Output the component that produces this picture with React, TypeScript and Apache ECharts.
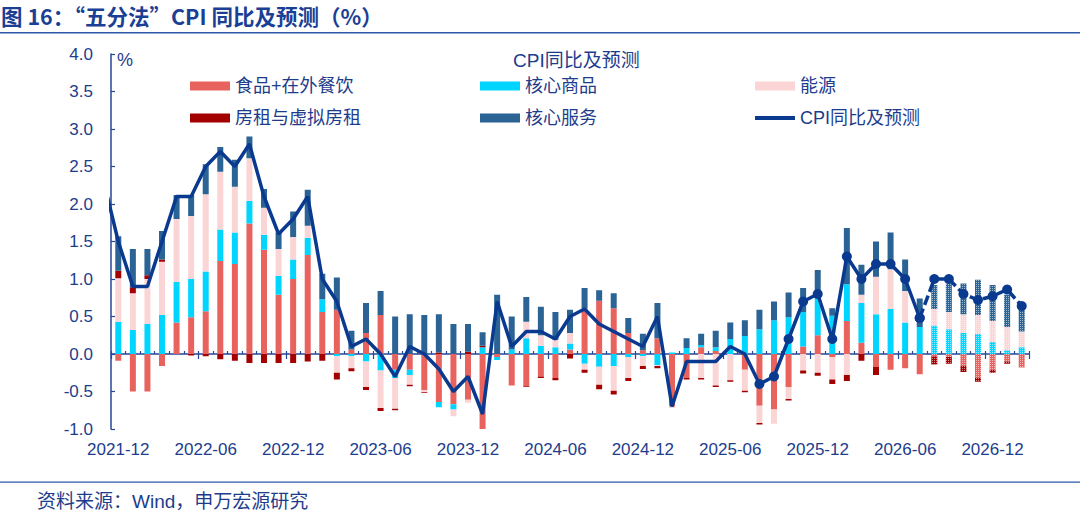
import React, { useEffect, useRef } from "react";
import * as echarts from "echarts";

// Months (2021-11 only feeds the clipped start of the CPI line)
const categories = [
  "2021-11", "2021-12",
  "2022-01", "2022-02", "2022-03", "2022-04", "2022-05", "2022-06", "2022-07", "2022-08", "2022-09", "2022-10", "2022-11", "2022-12",
  "2023-01", "2023-02", "2023-03", "2023-04", "2023-05", "2023-06", "2023-07", "2023-08", "2023-09", "2023-10", "2023-11", "2023-12",
  "2024-01", "2024-02", "2024-03", "2024-04", "2024-05", "2024-06", "2024-07", "2024-08", "2024-09", "2024-10", "2024-11", "2024-12",
  "2025-01", "2025-02", "2025-03", "2025-04", "2025-05", "2025-06", "2025-07", "2025-08", "2025-09", "2025-10", "2025-11", "2025-12",
  "2026-01", "2026-02", "2026-03", "2026-04", "2026-05", "2026-06", "2026-07", "2026-08", "2026-09", "2026-10", "2026-11", "2026-12",
  "2027-01", "2027-02",
];

// 食品+在外餐饮
const food = [
  null, -0.09,
  -0.50, -0.50, -0.16, 0.42, 0.49, 0.57, 1.24, 1.20, 1.74, 1.39, 0.79, 1.00,
  1.32, 0.56, 0.59, 0.06, 0.28, 0.52, -0.21, -0.21, -0.48, -0.64, -0.67, -0.61,
  -1.04, -0.04, -0.42, -0.43, -0.30, -0.32, 0.06, 0.61, 0.71, 0.61, 0.28, 0.05,
  0.21, -0.70, -0.32, 0.09, 0.04, 0.00, -0.21, -0.69, -0.74, -0.44, 0.10, 0.25,
  -0.04, 0.44, 0.15, -0.17, -0.21, -0.19, -0.27, -0.03, -0.04, -0.16, -0.32, -0.21,
  -0.10, -0.18,
];
// 核心商品
const coreGoods = [
  null, 0.43,
  0.32, 0.40, 0.52, 0.54, 0.51, 0.53, 0.42, 0.42, 0.30, 0.20, 0.25, 0.26,
  0.23, 0.17, -0.03, -0.03, -0.10, -0.22, -0.11, -0.07, 0.00, -0.07, -0.07, 0.00,
  0.09, -0.04, 0.06, 0.21, 0.11, 0.09, 0.08, -0.13, -0.17, -0.16, -0.04, -0.03,
  -0.15, 0.02, 0.08, 0.03, 0.05, 0.20, 0.24, 0.33, 0.45, 0.49, 0.46, 0.49,
  0.51, 0.49, 0.53, 0.53, 0.60, 0.42, 0.36, 0.38, 0.33, 0.28, 0.27, 0.16,
  0.05, 0.09,
];
// 能源
const energy = [
  null, 0.58,
  0.49, 0.60, 0.71, 0.84, 0.84, 1.03, 0.77, 0.61, 0.57, 0.36, 0.36, 0.30,
  0.16, 0.00, -0.22, -0.16, -0.34, -0.50, -0.41, -0.13, -0.03, 0.00, -0.09, -0.04,
  0.00, 0.00, 0.00, 0.22, 0.14, 0.10, 0.14, -0.08, -0.24, -0.33, -0.28, -0.13,
  -0.01, -0.02, 0.00, -0.32, -0.42, -0.35, -0.28, -0.23, -0.19, -0.16, -0.22, -0.25,
  -0.30, -0.28, 0.11, 0.50, 0.53, 0.42, 0.00, 0.22, 0.23, 0.25, 0.25, 0.28,
  0.31, 0.21,
];
// 房租与虚拟房租
const rent = [
  null, 0.10,
  0.08, 0.05, 0.03, 0.00, -0.02, -0.03, -0.07, -0.09, -0.12, -0.12, -0.12, -0.12,
  -0.10, -0.09, -0.09, -0.04, -0.04, -0.04, -0.02, -0.02, -0.01, 0.02, 0.00, 0.03,
  0.02, 0.00, 0.00, -0.01, -0.02, -0.03, -0.06, -0.04, -0.06, -0.05, -0.04, -0.04,
  -0.03, 0.00, -0.02, -0.02, -0.02, -0.02, -0.02, -0.02, 0.00, -0.02, -0.04, -0.04,
  -0.06, -0.08, -0.09, -0.11, 0.00, 0.00, 0.00, -0.11, -0.09, -0.08, -0.05, -0.04,
  -0.03, 0.00,
];
// 核心服务
const coreServices = [
  null, 0.46,
  0.51, 0.35, 0.38, 0.32, 0.28, 0.40, 0.33, 0.36, 0.29, 0.25, 0.22, 0.34,
  0.48, 0.34, 0.43, 0.25, 0.40, 0.32, 0.50, 0.53, 0.52, 0.51, 0.40, 0.37,
  0.18, 0.79, 0.44, 0.33, 0.38, 0.37, 0.31, 0.27, 0.14, 0.20, 0.20, 0.22,
  0.47, 0.00, 0.13, 0.15, 0.22, 0.22, 0.21, 0.26, 0.25, 0.33, 0.32, 0.38,
  0.10, 0.75, 0.40, 0.47, 0.49, 0.42, 0.38, 0.32, 0.38, 0.41, 0.47, 0.48,
  0.43, 0.35,
];
// CPI同比及预测
const cpi = [
  2.3, 1.5,
  0.9, 0.9, 1.5, 2.1, 2.1, 2.5, 2.7, 2.5, 2.8, 2.1, 1.6, 1.8,
  2.1, 1.0, 0.7, 0.1, 0.2, 0.0, -0.3, 0.1, 0.0, -0.2, -0.5, -0.3,
  -0.8, 0.7, 0.1, 0.3, 0.3, 0.2, 0.5, 0.6, 0.4, 0.3, 0.2, 0.1,
  0.5, -0.7, -0.1, -0.1, -0.1, 0.1, 0.0, -0.4, -0.3, 0.2, 0.7, 0.8,
  0.2, 1.3, 1.0, 1.2, 1.2, 1.0, 0.48, 1.0, 1.0, 0.8, 0.72, 0.77,
  0.86, 0.64,
];
const yTicks = [-1.0, -0.5, 0.0, 0.5, 1.0, 1.5, 2.0, 2.5, 3.0, 3.5, 4.0];

const FIRST_SHOWN = "2021-12";
const MARKER_FROM = "2025-08";
const DASH_FROM = "2026-07";
const HATCH_FROM = "2026-08";

const FONT = '"Liberation Sans", "Noto Sans CJK SC", sans-serif';
const CJK_FONT = '"Noto Sans CJK SC", "Liberation Sans", sans-serif';
const TXT = "#1D3D8C";
const AXIS = "#24479A";
const NAVY = "#0A3A90";
const COLORS = {
  food: "#E8625E",
  rent: "#A30000",
  cg: "#00D5FF",
  en: "#FBD5D5",
  cs: "#2A6394",
};

const DECAL = {
  symbol: "rect",
  symbolSize: 1,
  dashArrayX: [1, 1],
  dashArrayY: [1, 1],
  color: "rgba(255,255,255,0.55)",
};

export default function App() {
  const ref = useRef<HTMLDivElement>(null);

  useEffect(() => {
    if (!ref.current) return;
    const chart = echarts.init(ref.current, null, { renderer: "svg" });

    const iFirst = categories.indexOf(FIRST_SHOWN);
    const iMarker = categories.indexOf(MARKER_FROM);
    const iDash = categories.indexOf(DASH_FROM);
    const iHatch = categories.indexOf(HATCH_FROM);
    const isLabelCat = (_i: number, v: string) => v.endsWith("-06") || v.endsWith("-12");

    const bar = (name: string, data: (number | null)[], color: string) => ({
      name,
      type: "bar",
      stack: "total",
      stackStrategy: "samesign",
      barWidth: 6,
      itemStyle: { color },
      z: 2,
      data: data.map((v, i) =>
        v != null && i >= iHatch ? { value: v, itemStyle: { decal: DECAL } } : v
      ),
    });

    const actual = cpi.map((v, i) => (i <= iDash ? v : null));
    const forecast = cpi.map((v, i) => (i >= iDash ? v : null));
    const symSize = (_v: any, p: any) => (p.dataIndex >= iMarker ? 10 : 0);

    const legendBase = {
      orient: "vertical",
      itemGap: 14,
      itemWidth: 40,
      itemHeight: 9,
      padding: 0,
      top: 77,
      selectedMode: false,
      symbolKeepAspect: true,
      textStyle: { color: TXT, fontSize: 18, fontFamily: FONT },
    };

    const yBase = {
      type: "value",
      min: yTicks[0],
      max: yTicks[yTicks.length - 1],
      interval: 0.5,
      splitLine: { show: false },
    };

    chart.setOption({
      animation: false,
      backgroundColor: "#ffffff",
      grid: { left: 111, right: 51, top: 54, bottom: 86, containLabel: false, outerBoundsMode: "none" },
      legend: [
        { ...legendBase, left: 190, data: [{ name: "食品+在外餐饮", icon: "rect" }, { name: "房租与虚拟房租", icon: "rect" }] },
        { ...legendBase, left: 480, data: [{ name: "核心商品", icon: "rect" }, { name: "核心服务", icon: "rect" }] },
        { ...legendBase, left: 755, data: [{ name: "能源", icon: "rect" }, { name: "CPI同比及预测", icon: "path://M0,0H40V4H0Z" }] },
      ],
      xAxis: [
        {
          // labels along the bottom of the plot
          type: "category",
          data: categories,
          min: iFirst,
          position: "bottom",
          boundaryGap: true,
          axisLine: { show: false, onZero: false },
          axisTick: { show: false },
          axisLabel: { interval: isLabelCat, margin: 12, color: TXT, fontSize: 17, fontFamily: FONT },
          splitLine: { show: false },
        },
        {
          // axis line at zero with small inner ticks
          type: "category",
          data: categories,
          min: iFirst,
          position: "bottom",
          boundaryGap: true,
          axisLine: { show: true, onZero: true, lineStyle: { color: AXIS, width: 1.5 } },
          axisTick: { show: true, inside: true, length: 3, interval: 0, lineStyle: { color: AXIS, width: 1.2 } },
          axisLabel: { show: false },
          splitLine: { show: false },
        },
        {
          // longer outer ticks before each labelled month
          type: "category",
          data: categories,
          min: iFirst,
          position: "bottom",
          boundaryGap: true,
          axisLine: { show: false, onZero: true },
          axisTick: { show: true, inside: false, length: 5, interval: isLabelCat, lineStyle: { color: AXIS, width: 1.2 } },
          axisLabel: { show: false },
          splitLine: { show: false },
        },
      ],
      yAxis: [
        {
          ...yBase,
          axisLine: { show: true, lineStyle: { color: AXIS, width: 1.5 } },
          axisTick: { show: true, inside: true, length: 4, lineStyle: { color: AXIS, width: 1.2 } },
          axisLabel: { formatter: (v: number) => v.toFixed(1), color: TXT, fontSize: 17, fontFamily: FONT, margin: 18 },
        },
        {
          ...yBase,
          show: false,
        },
      ],
      series: [
        bar("食品+在外餐饮", food, COLORS.food),
        bar("核心商品", coreGoods, COLORS.cg),
        bar("能源", energy, COLORS.en),
        bar("房租与虚拟房租", rent, COLORS.rent),
        bar("核心服务", coreServices, COLORS.cs),
        {
          name: "CPI同比及预测",
          type: "line",
          data: actual,
          z: 5,
          symbol: "circle",
          symbolSize: symSize,
          showAllSymbol: true,
          clip: true,
          lineStyle: { color: NAVY, width: 3.5 },
          itemStyle: { color: NAVY },
        },
        {
          name: "CPI同比及预测",
          type: "line",
          data: forecast,
          z: 5,
          symbol: "circle",
          symbolSize: symSize,
          showAllSymbol: true,
          clip: true,
          lineStyle: { color: NAVY, width: 3.5, type: [10, 4] },
          itemStyle: { color: NAVY },
        },
      ],
      graphic: [
        {
          type: "text",
          left: 1,
          top: 5,
          style: { text: "图 16：“五分法”CPI 同比及预测（%）", font: `bold 21.5px ${CJK_FONT}`, fill: "#1B3F94" },
        },
        { type: "rect", shape: { x: 0, y: 32, width: 1080, height: 1.5 }, style: { fill: "#2B59A8" } },
        {
          type: "text",
          left: 513,
          top: 51,
          style: { text: "CPI同比及预测", font: `19px ${FONT}`, fill: TXT },
        },
        {
          type: "text",
          left: 117,
          top: 51,
          style: { text: "%", font: `18px ${FONT}`, fill: TXT },
        },
        { type: "rect", shape: { x: 0, y: 481.5, width: 1080, height: 1.2 }, style: { fill: "#2B59A8" } },
        {
          type: "text",
          left: 37,
          top: 492,
          style: { text: "资料来源：Wind，申万宏源研究", font: `19px ${FONT}`, fill: TXT },
        },
      ],
    });

    return () => chart.dispose();
  }, []);

  return (
    <div
      ref={ref}
      style={{ position: "fixed", left: 0, top: 0, width: 1080, height: 515, background: "#fff" }}
    />
  );
}
